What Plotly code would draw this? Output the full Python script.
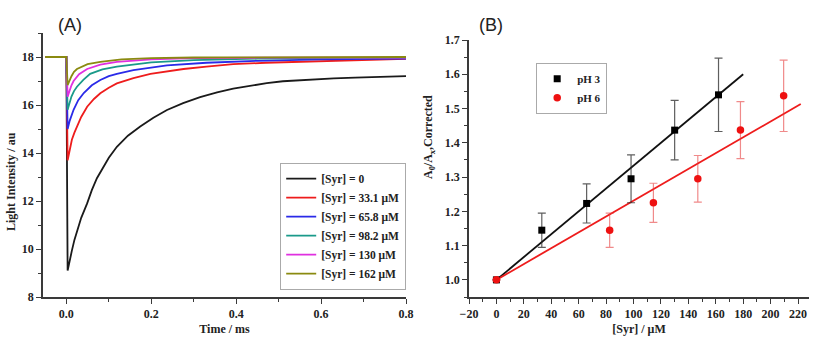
import plotly.graph_objects as go

# ---------------- Panel A data ----------------
t_black = [-0.05, -0.02, 0.0, 0.003, 0.007, 0.013, 0.019, 0.025, 0.035, 0.049, 0.06, 0.072, 0.085, 0.1, 0.119, 0.145, 0.174, 0.205, 0.237, 0.275, 0.315, 0.355, 0.393, 0.433, 0.472, 0.51, 0.55, 0.59, 0.63, 0.68, 0.73, 0.8]
y_black = [18.0, 18.0, 18.0, 9.1, 9.5, 9.93, 10.38, 10.76, 11.3, 11.9, 12.45, 12.95, 13.35, 13.8, 14.26, 14.72, 15.1, 15.47, 15.79, 16.08, 16.33, 16.53, 16.68, 16.81, 16.91, 16.99, 17.04, 17.08, 17.11, 17.14, 17.17, 17.2]

t_red = [-0.05, -0.02, 0.0, 0.003, 0.007, 0.013, 0.019, 0.025, 0.035, 0.049, 0.065, 0.08, 0.1, 0.119, 0.158, 0.198, 0.276, 0.33, 0.393, 0.47, 0.55, 0.65, 0.8]
y_red = [18.0, 18.0, 18.0, 13.7, 14.1, 14.55, 14.85, 15.1, 15.5, 15.93, 16.25, 16.49, 16.72, 16.9, 17.12, 17.3, 17.5, 17.6, 17.7, 17.76, 17.8, 17.86, 17.92]

t_blue = [-0.05, 0.0, 0.003, 0.008, 0.017, 0.028, 0.041, 0.06, 0.08, 0.1, 0.119, 0.158, 0.237, 0.33, 0.45, 0.6, 0.8]
y_blue = [18.0, 18.0, 15.0, 15.35, 15.8, 16.2, 16.5, 16.82, 17.04, 17.2, 17.3, 17.45, 17.65, 17.76, 17.84, 17.9, 17.93]

t_teal = [-0.05, 0.0, 0.003, 0.007, 0.012, 0.018, 0.025, 0.04, 0.056, 0.085, 0.119, 0.2, 0.3, 0.45, 0.6, 0.8]
y_teal = [18.0, 18.0, 15.8, 16.1, 16.35, 16.58, 16.76, 17.05, 17.3, 17.48, 17.6, 17.78, 17.87, 17.93, 17.96, 17.97]

t_mag = [-0.05, 0.0, 0.003, 0.007, 0.012, 0.017, 0.03, 0.049, 0.08, 0.119, 0.2, 0.3, 0.45, 0.8]
y_mag = [18.0, 18.0, 16.35, 16.6, 16.82, 17.0, 17.28, 17.5, 17.68, 17.8, 17.9, 17.95, 17.97, 17.98]

t_olive = [-0.05, 0.0, 0.003, 0.007, 0.012, 0.018, 0.025, 0.05, 0.08, 0.13, 0.2, 0.3, 0.5, 0.8]
y_olive = [18.0, 18.0, 16.83, 17.0, 17.2, 17.38, 17.5, 17.7, 17.8, 17.9, 17.95, 17.98, 18.0, 18.0]

names_a = ["[Syr] = 0", "[Syr] = 33.1 μM", "[Syr] = 65.8 μM", "[Syr] = 98.2 μM", "[Syr] = 130 μM", "[Syr] = 162 μM"]
colors_a = ["#1a1a1a", "#ee1c1c", "#2a2ae8", "#1a9a8a", "#e030e0", "#8a8a10"]

# ---------------- Panel B data ----------------
ph3_x = [0, 33.1, 65.8, 98.2, 130, 162]
ph3_y = [1.0, 1.145, 1.223, 1.295, 1.437, 1.54]
ph3_err = [0.0, 0.05, 0.057, 0.07, 0.087, 0.107]

ph6_x = [0, 82.6, 114.5, 146.9, 178, 209.5]
ph6_y = [1.0, 1.145, 1.225, 1.295, 1.437, 1.537]
ph6_err = [0.0, 0.05, 0.057, 0.068, 0.083, 0.104]

fit3_x = [0, 180]
fit3_y = [1.0, 1.6]
fit6_x = [0, 222]
fit6_y = [1.0, 1.513]

SERIF = "Liberation Serif, Times New Roman, serif"
AXC = "#3a3a3a"

fig = go.Figure()

curves = [(t_black, y_black), (t_red, y_red), (t_blue, y_blue),
          (t_teal, y_teal), (t_mag, y_mag), (t_olive, y_olive)]
for (tx, ty), nm, c in zip(curves, names_a, colors_a):
    fig.add_trace(go.Scatter(x=tx, y=ty, mode="lines", name=nm,
                             line=dict(color=c, width=1.8),
                             xaxis="x", yaxis="y", legend="legend"))

fig.add_trace(go.Scatter(x=fit3_x, y=fit3_y, mode="lines", line=dict(color="#111111", width=1.8),
                         showlegend=False, xaxis="x2", yaxis="y2"))
fig.add_trace(go.Scatter(x=fit6_x, y=fit6_y, mode="lines", line=dict(color="#ee1c1c", width=1.8),
                         showlegend=False, xaxis="x2", yaxis="y2"))
fig.add_trace(go.Scatter(x=ph3_x, y=ph3_y, mode="markers", name="pH 3",
                         marker=dict(symbol="square", color="#000000", size=7),
                         error_y=dict(type="data", array=ph3_err, color="rgba(40,40,40,0.75)",
                                      thickness=1.2, width=4),
                         xaxis="x2", yaxis="y2", legend="legend2"))
fig.add_trace(go.Scatter(x=ph6_x, y=ph6_y, mode="markers", name="pH 6",
                         marker=dict(symbol="circle", color="#ee1111", size=7.5),
                         error_y=dict(type="data", array=ph6_err, color="rgba(230,60,60,0.6)",
                                      thickness=1.2, width=4),
                         xaxis="x2", yaxis="y2", legend="legend2"))

tickfont = dict(family=SERIF, size=12, color="#222222", weight="bold")
titlefont = dict(family=SERIF, size=12, color="#222222", weight="bold")

def ax(**kw):
    base = dict(showgrid=False, zeroline=False, showline=True, linecolor=AXC, linewidth=1.5,
                ticks="outside", ticklen=5, tickwidth=1.3, tickcolor=AXC, tickfont=tickfont,
                mirror=False, automargin=False)
    base.update(kw)
    return base

minor_kw = dict(ticklen=3, tickcolor=AXC, ticks="outside", tickwidth=1.2)

fig.update_layout(
    width=821, height=348,
    margin=dict(l=0, r=0, t=0, b=0),
    paper_bgcolor="white", plot_bgcolor="white",
    xaxis=ax(domain=[43/821, 406/821], range=[-0.055, 0.8], tickvals=[0, 0.2, 0.4, 0.6, 0.8],
             tickformat=".1f", minor=dict(dtick=0.1, tick0=0, **minor_kw),
             title=dict(text="Time / ms", font=titlefont, standoff=4), anchor="y"),
    yaxis=ax(domain=[1-297/348, 1-33/348], range=[8, 19], tickvals=[8, 10, 12, 14, 16, 18],
             minor=dict(dtick=1, tick0=0, **minor_kw), anchor="x"),
    xaxis2=ax(domain=[469/821, 809/821], range=[-20, 228], dtick=20, tick0=0,
              minor=dict(dtick=10, tick0=0, **minor_kw),
              title=dict(text="[Syr] / μM", font=titlefont, standoff=4), anchor="y2"),
    yaxis2=ax(domain=[1-297/348, 1-40/348], range=[0.95, 1.7], dtick=0.1, tick0=1.0, tickformat=".1f",
              minor=dict(dtick=0.05, tick0=0, **minor_kw), anchor="x2"),
    legend=dict(x=406/821, y=1-290/348, xanchor="right", yanchor="bottom",
                bgcolor="white", bordercolor="#aaaaaa", borderwidth=1.2,
                font=dict(family=SERIF, size=11.5, color="#222222", weight="bold"),
                tracegroupgap=0, itemwidth=30),
    legend2=dict(x=536/821, y=1-63/348, xanchor="left", yanchor="top",
                 bgcolor="white", bordercolor="#aaaaaa", borderwidth=1.2,
                 font=dict(family=SERIF, size=11, color="#222222", weight="bold"),
                 tracegroupgap=0, itemwidth=30),
    showlegend=True,
    annotations=[
        dict(text="(A)", x=56/821, y=1-25/348, xref="paper", yref="paper", xanchor="left", yanchor="middle",
             showarrow=False, font=dict(family="Liberation Sans, Arial, sans-serif", size=18, color="#222222")),
        dict(text="(B)", x=477/821, y=1-25/348, xref="paper", yref="paper", xanchor="left", yanchor="middle",
             showarrow=False, font=dict(family="Liberation Sans, Arial, sans-serif", size=18, color="#222222")),
        dict(text="Light Intensity / au", x=11/821, y=1-182/348, xref="paper", yref="paper",
             xanchor="center", yanchor="middle", textangle=-90, showarrow=False, font=titlefont),
        dict(text="A<sub>0</sub>/A<sub>x</sub>,Corrected", x=429/821, y=1-137/348, xref="paper", yref="paper",
             xanchor="center", yanchor="middle", textangle=-90, showarrow=False, font=titlefont),
    ],
)

fig.write_html("out.html")
